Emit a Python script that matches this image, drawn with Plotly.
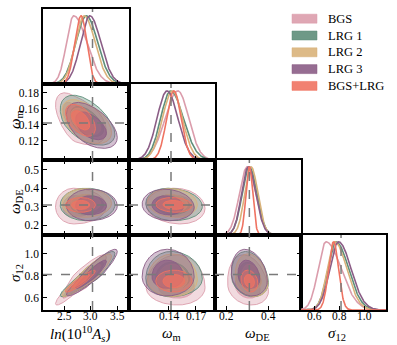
import numpy as np
import plotly.graph_objects as go

W, H = 397, 345

names = ["BGS", "LRG 1", "LRG 2", "LRG 3", "BGS+LRG"]
colors = ["#DB9DAC", "#5E8E7A", "#D9B27A", "#8B5D86", "#EF7362"]

# parameters: ln(10^10 As), omega_m, omega_DE, sigma_12
labels = ["<i>ln</i>(10<sup>10</sup><i>A<sub>s</sub></i>)", "<i>ω</i><sub>m</sub>",
          "<i>ω</i><sub>DE</sub>", "<i>σ</i><sub>12</sub>"]
fiducial = [3.03, 0.1424, 0.31, 0.81]
ranges = [[2.08, 3.73], [0.096, 0.191], [0.148, 0.552], [0.487, 1.17]]
xtickvals = [[2.5, 3.0, 3.5], [0.14, 0.17], [0.2, 0.4], [0.6, 0.8, 1.0]]
xticktext = [["2.5", "3.0", "3.5"], ["0.14", "0.17"], ["0.2", "0.4"], ["0.6", "0.8", "1.0"]]
ytickvals = [[2.5, 3.0, 3.5], [0.12, 0.14, 0.16, 0.18], [0.2, 0.3, 0.4, 0.5], [0.6, 0.8, 1.0]]
yticktext = [["2.5", "3.0", "3.5"], ["0.12", "0.14", "0.16", "0.18"], ["0.2", "0.3", "0.4", "0.5"],
             ["0.6", "0.8", "1.0"]]

# posterior summaries (rows follow names)
peaks = [[2.67, 0.150, 0.300, 0.69],
         [2.91, 0.142, 0.310, 0.77],
         [2.87, 0.144, 0.318, 0.76],
         [2.98, 0.138, 0.305, 0.79],
         [2.81, 0.1456, 0.310, 0.75]]
sig_lo = [[0.14, 0.014, 0.037, 0.063],
          [0.20, 0.011, 0.034, 0.065],
          [0.17, 0.011, 0.030, 0.060],
          [0.18, 0.011, 0.032, 0.070],
          [0.12, 0.008, 0.016, 0.040]]
sig_hi = [[0.25, 0.012, 0.040, 0.120],
          [0.22, 0.014, 0.036, 0.100],
          [0.21, 0.011, 0.032, 0.095],
          [0.21, 0.012, 0.036, 0.100],
          [0.11, 0.008, 0.016, 0.040]]
corr = {(0, 1): [-0.5, -0.5, -0.5, -0.5, -0.5],
        (0, 2): [0.0, 0.0, 0.0, 0.0, 0.0],
        (0, 3): [0.92, 0.92, 0.92, 0.92, 0.92],
        (1, 2): [-0.1, -0.1, -0.1, -0.1, -0.1],
        (1, 3): [0.0, 0.0, 0.0, 0.0, 0.0],
        (2, 3): [-0.2, -0.2, -0.2, -0.2, -0.2]}
levels = [2.5, 1.515]  # 95% and 68% radii

col_px = [[43, 129], [129, 215], [215, 300.7], [300.7, 386]]
row_px = [[9, 84], [84, 160], [160, 235], [235, 310]]

serif = "Liberation Serif"


def rgba(h, a):
    return f"rgba({int(h[1:3], 16)},{int(h[3:5], 16)},{int(h[5:7], 16)},{a})"


def side(z, k, p):
    return z * np.where(z > 0, sig_hi[k][p], sig_lo[k][p])


fig = go.Figure()
layout = {}
shapes = []
annotations = []
dash = dict(color="#7a7a7a", width=1.5, dash="dash")
n = 0
for i in range(4):
    for j in range(i + 1):
        n += 1
        sfx = "" if n == 1 else str(n)
        xa, ya = "x" + sfx, "y" + sfx
        xname, yname = "xaxis" + sfx, "yaxis" + sfx
        diag = i == j
        layout[xname] = dict(domain=[col_px[j][0] / W, col_px[j][1] / W], anchor=ya,
                             range=ranges[j], tickvals=xtickvals[j], showticklabels=False,
                             ticks="inside", ticklen=4, mirror=True if diag else "ticks")
        layout[yname] = dict(domain=[1 - row_px[i][1] / H, 1 - row_px[i][0] / H], anchor=xa)
        if i == 3:
            # bottom row tick labels, sitting close under the frame
            for v, s in zip(xtickvals[j], xticktext[j]):
                annotations.append(dict(text=s, x=v, xref=xa, y=1 - 315.5 / H, yref="paper",
                                        xanchor="center", yanchor="middle", showarrow=False,
                                        font=dict(family=serif, size=11.5, color="black")))
        if diag:
            layout[yname].update(range=[0, 1.1], showticklabels=False, ticks="", mirror=True)
            xs = np.linspace(ranges[j][0], ranges[j][1], 300)
            for k in range(5):
                z = (xs - peaks[k][j]) / np.where(xs > peaks[k][j], sig_hi[k][j], sig_lo[k][j])
                fig.add_trace(go.Scatter(x=xs, y=np.exp(-0.5 * z ** 2), mode="lines",
                                         line=dict(color=colors[k], width=1.6),
                                         xaxis=xa, yaxis=ya, showlegend=False))
            shapes.append(dict(type="line", xref=xa, yref=f"{ya} domain", x0=fiducial[j], x1=fiducial[j],
                               y0=0, y1=1, line=dash))
        else:
            layout[yname].update(range=ranges[i], tickvals=ytickvals[i], ticktext=yticktext[i],
                                 showticklabels=(j == 0), ticks="inside", ticklen=4, mirror="ticks")
            t = np.linspace(0, 2 * np.pi, 240)
            for k in range(5):
                rho = corr[(j, i)][k]
                for r, a in zip(levels, [0.38, 0.7]):
                    u, v = r * np.cos(t), r * np.sin(t)
                    zx = u
                    zy = rho * u + np.sqrt(1 - rho ** 2) * v
                    fig.add_trace(go.Scatter(x=peaks[k][j] + side(zx, k, j),
                                             y=peaks[k][i] + side(zy, k, i),
                                             mode="lines", fill="toself", fillcolor=rgba(colors[k], a),
                                             line=dict(color=rgba(colors[k], 0.9), width=1),
                                             xaxis=xa, yaxis=ya, showlegend=False))
            shapes.append(dict(type="line", xref=xa, yref=f"{ya} domain", x0=fiducial[j], x1=fiducial[j],
                               y0=0, y1=1, line=dash))
            shapes.append(dict(type="line", xref=f"{xa} domain", yref=ya, x0=0, x1=1,
                               y0=fiducial[i], y1=fiducial[i], line=dash))
        for nm in (xname, yname):
            layout[nm].update(showgrid=False, zeroline=False, showline=True, linecolor="black",
                              linewidth=1.5, tickcolor="black", tickwidth=1,
                              tickfont=dict(family=serif, size=11.5, color="black"))

for j, xc in enumerate([80, 171, 257, 337]):
    annotations.append(dict(text=labels[j], x=xc / W, y=1 - 334 / H, xref="paper", yref="paper",
                            xanchor="center", yanchor="middle", showarrow=False,
                            font=dict(family=serif, size=15, color="black")))
for i, yc in zip([1, 2, 3], [120, 202, 273]):
    annotations.append(dict(text=labels[i], x=16 / W, y=1 - yc / H, xref="paper", yref="paper",
                            xanchor="center", yanchor="middle", textangle=-90, showarrow=False,
                            font=dict(family=serif, size=15, color="black")))

# legend drawn by hand
for k, nm in enumerate(names):
    yc = 18.7 + 16.8 * k
    shapes.append(dict(type="rect", xref="paper", yref="paper", x0=292 / W, x1=317 / W,
                       y0=1 - (yc + 4.5) / H, y1=1 - (yc - 4.5) / H,
                       fillcolor=rgba(colors[k], 0.9), line=dict(color=rgba(colors[k], 0.5), width=1)))
    annotations.append(dict(text=nm, x=326 / W, y=1 - yc / H, xref="paper", yref="paper",
                            xanchor="left", yanchor="middle", showarrow=False,
                            font=dict(family=serif, size=12.5, color="black")))

fig.update_layout(width=W, height=H, margin=dict(l=0, r=0, t=0, b=0),
                  plot_bgcolor="white", paper_bgcolor="white",
                  shapes=shapes, annotations=annotations, **layout)
fig.write_html("out.html", config={"displayModeBar": False},
               post_script="document.body.style.margin='0';")
